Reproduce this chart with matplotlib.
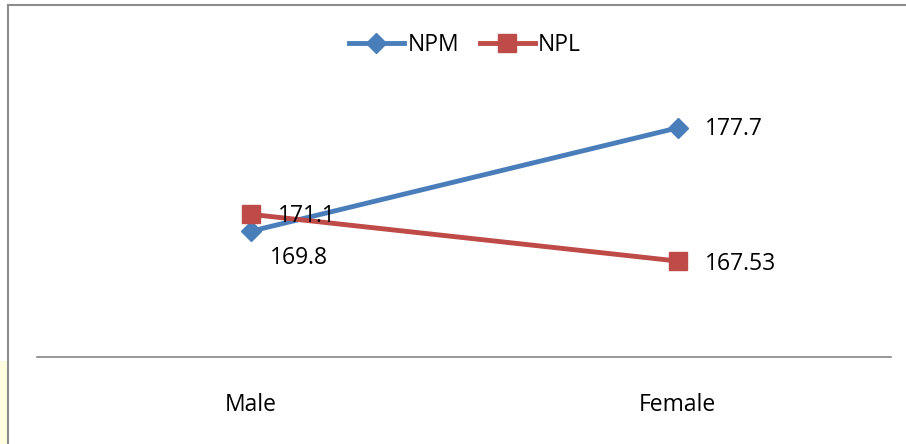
import matplotlib
matplotlib.use("Agg")
import matplotlib.pyplot as plt
from matplotlib.patches import Rectangle

categories = ["Male", "Female"]
npm = [169.8, 177.7]
npl = [171.1, 167.53]
npm_labels = ["169.8", "177.7"]
npl_labels = ["171.1", "167.53"]

plt.rcParams['font.family'] = ['Open Sans', 'DejaVu Sans']

fig = plt.figure(figsize=(9.06, 4.44), dpi=100)
ax = fig.add_axes([37/906, 87/444, 854/906, 288/444])

x = list(range(len(categories)))
blue = '#4A7EBB'
red = '#BE4B48'
ax.plot(x, npm, color=blue, lw=3.5, marker='D', ms=10, label='NPM', zorder=3)
ax.plot(x, npl, color=red, lw=3.5, marker='s', ms=13, label='NPL', zorder=3)

# data labels
fs = 16.5
ax.annotate(npm_labels[0], (x[0], npm[0]), xytext=(14, -19), textcoords='offset points',
            fontsize=fs, va='center', ha='left', zorder=5)
ax.annotate(npm_labels[1], (x[1], npm[1]), xytext=(20, -1), textcoords='offset points',
            fontsize=fs, va='center', ha='left', zorder=5)
ax.annotate(npl_labels[0], (x[0], npl[0]), xytext=(20, -1), textcoords='offset points',
            fontsize=fs, va='center', ha='left', zorder=5)
ax.annotate(npl_labels[1], (x[1], npl[1]), xytext=(20, -2), textcoords='offset points',
            fontsize=fs, va='center', ha='left', zorder=5)

ax.set_xlim(-0.5, 1.5)
ax.set_ylim(160.2, 182.2)
ax.set_xticks(x)
ax.set_xticklabels(categories, fontsize=16.5)
ax.tick_params(axis='x', length=0, pad=26)
ax.set_yticks([])
for s in ['top', 'right', 'left']:
    ax.spines[s].set_visible(False)
ax.spines['bottom'].set_color('#868686')
ax.spines['bottom'].set_linewidth(1.2)

ax.legend(loc='center', bbox_to_anchor=(465/906, 1 - 45/444), bbox_transform=fig.transFigure,
          ncol=2, frameon=False, fontsize=16.5, handlelength=2.4, columnspacing=0.9,
          handletextpad=0.15)

fig.patches.append(Rectangle((0, 0), 7/906, 83/444, transform=fig.transFigure,
                             facecolor='#FFFDE0', edgecolor='none', zorder=0))
fig.patches.append(Rectangle((8/906, -0.1), 1.2, 1 - 5/444 + 0.1, transform=fig.transFigure,
                             fill=False, edgecolor='#8c8c8c', lw=1.5))

fig.savefig('out.png', dpi=100)
